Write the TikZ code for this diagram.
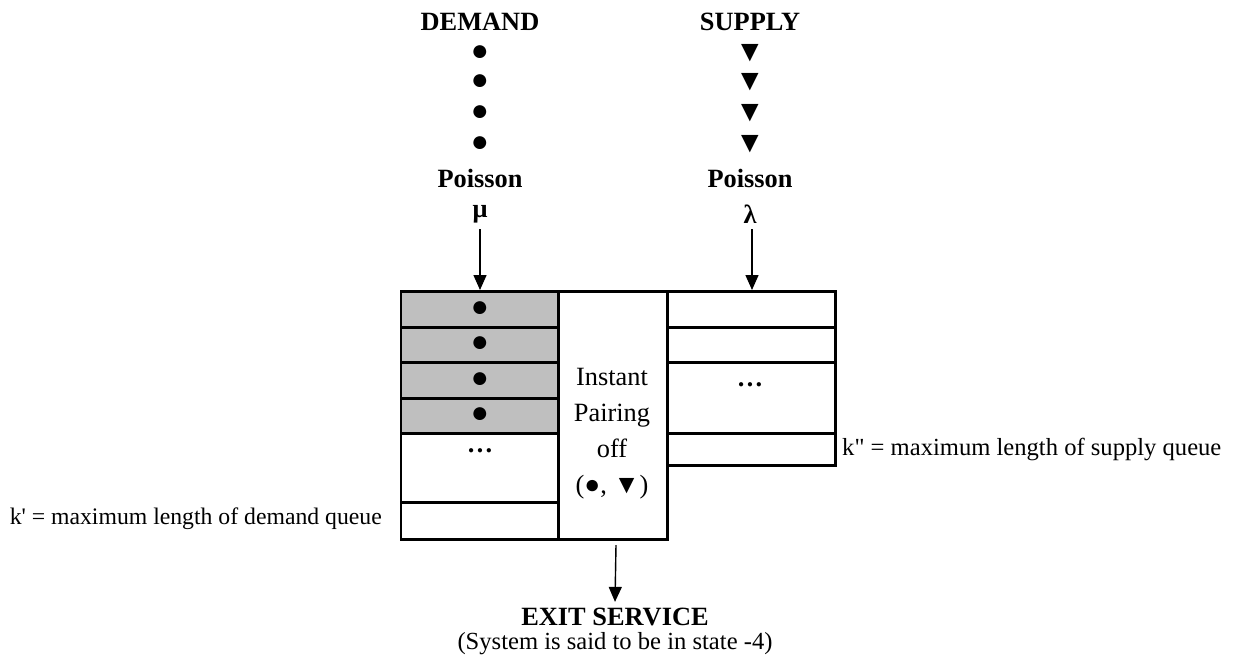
\documentclass[tikz,border=0pt]{standalone}
\usepackage{fontspec}
\setmainfont{Liberation Serif}[Ligatures=TeXOff]
\usetikzlibrary{arrows.meta}
\begin{document}
\begin{tikzpicture}[x=0.02cm,y=-0.02cm,
    lbl/.style={font=\fontsize{14}{17}\selectfont},
    head/.style={font=\fontsize{15}{18}\selectfont\bfseries},
    token/.style={font=\fontsize{17}{18}\selectfont, inner sep=0pt},
    cell/.style={line width=1.7pt},
    flow/.style={-{Triangle[length=0.3cm,width=0.26cm]}, line width=0.8pt}]
    \useasboundingbox (0,0) rectangle (1234,664);

    % queues
    \fill[gray!50] (401,291) rectangle (558,433);
    \foreach \y in {327,362,398,433,502} \draw[cell] (401,\y) -- (558,\y);
    \draw[cell] (401,291) rectangle (667,539);
    \draw[cell] (558,291) -- (558,539);
    \draw[cell] (667,291) rectangle (835,465);
    \foreach \y in {327,362,433} \draw[cell] (667,\y) -- (835,\y);

    \foreach \y [count=\i] in {309,344,380,415} \node[token] (dq\i) at (480,\y) {●};
    \node[head] (dmore) at (480,451) {…};
    \node[head] (smore) at (750,385) {…};
    \node[lbl, align=center, font=\fontsize{15}{20.5}\selectfont] (pair) at (612,434) {Instant\\Pairing\\off\\(●, ▼)};

    % arrivals
    \node[head] (demand) at (480,22) {DEMAND};
    \node[head] (supply) at (750,22) {SUPPLY};
    \foreach \y [count=\i] in {53,82,113,144} {
        \node[token] (d\i) at (480,\y) {●};
        \node[token] (s\i) at (750,\y) {▼};
    }
    \node[head] (dpois) at (480,178) {Poisson};
    \node[head] (spois) at (750,178) {Poisson};
    \node[head] (mu) at (480,214) {μ};
    \node[head] (lam) at (750,214) {λ};
    \coordinate (din) at (480,290);
    \coordinate (sin) at (752,290);
    \draw[flow] (mu) -- (din);
    \draw[flow] (lam.south -| sin) -- (sin);

    % exit
    \node[head] (exit) at (615,617) {EXIT SERVICE};
    \node[lbl] (state) at (615,644) {(System is said to be in state -4)};
    \coordinate (out) at (616,545);
    \draw[flow] (out) -- (exit.north);

    \node[lbl, anchor=east, font=\fontsize{13.5}{16}\selectfont] (kd) at (388,519) {k' = maximum length of demand queue};
    \node[lbl, anchor=west] (ks) at (836,449) {k" = maximum length of supply queue};
\end{tikzpicture}
\end{document}
